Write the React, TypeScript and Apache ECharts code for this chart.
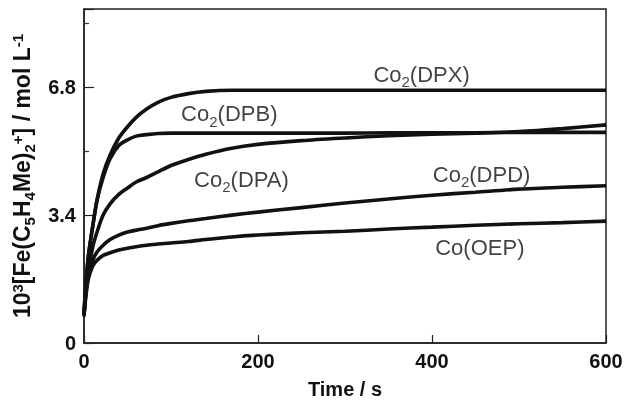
import React, { useEffect, useRef } from "react";
import * as echarts from "echarts";

const times = [0, 2, 5, 10, 15, 22, 30, 40, 50, 60, 72, 85, 100, 120, 140, 170, 200, 250, 300, 350, 400, 450, 500, 550, 600];
const dpx = [0.75, 1.5, 2.3, 3.1, 3.8, 4.5, 5.0, 5.45, 5.75, 6.0, 6.22, 6.4, 6.53, 6.63, 6.69, 6.72, 6.72, 6.72, 6.72, 6.72, 6.72, 6.72, 6.72, 6.72, 6.72];
const dpb = [0.8, 1.5, 2.3, 3.1, 3.8, 4.4, 4.9, 5.25, 5.4, 5.5, 5.54, 5.57, 5.58, 5.58, 5.58, 5.58, 5.58, 5.58, 5.58, 5.59, 5.59, 5.59, 5.6, 5.6, 5.6];
const dpa = [0.75, 1.3, 1.9, 2.55, 2.95, 3.4, 3.7, 3.95, 4.12, 4.28, 4.4, 4.55, 4.72, 4.88, 5.02, 5.18, 5.28, 5.38, 5.45, 5.51, 5.55, 5.58, 5.62, 5.7, 5.8];
const dpd = [0.75, 1.3, 1.8, 2.2, 2.42, 2.6, 2.75, 2.87, 2.95, 3.0, 3.05, 3.12, 3.18, 3.25, 3.31, 3.4, 3.48, 3.6, 3.72, 3.83, 3.93, 4.01, 4.09, 4.14, 4.18];
const oep = [0.7, 1.2, 1.7, 2.05, 2.2, 2.33, 2.4, 2.47, 2.52, 2.56, 2.6, 2.63, 2.66, 2.7, 2.75, 2.82, 2.87, 2.93, 2.97, 3.03, 3.08, 3.13, 3.17, 3.2, 3.24];

const labelTexts = ["{n|Co}{s|2}{n|(DPX)}", "{n|Co}{s|2}{n|(DPB)}", "{n|Co}{s|2}{n|(DPA)}", "{n|Co}{s|2}{n|(DPD)}", "{n|Co(OEP)}"];
const labelT = [388, 167, 181, 457, 455];
const labelV = [7.14, 6.1, 4.36, 4.49, 2.55];

const xTicks = [0, 200, 400, 600];
const yTicks = [0, 3.4, 6.8];

const pair = (ys: number[]) => times.map((t, i) => [t, ys[i]]);

export default function App() {
  const ref = useRef<HTMLDivElement>(null);
  useEffect(() => {
    if (!ref.current) return;
    const chart = echarts.init(ref.current, null, { renderer: "svg" });
    const lineStyle = { color: "#111", width: 3.6 };
    const mk = (name: string, ys: number[]) => ({
      name,
      type: "line",
      data: pair(ys),
      smooth: 0.3,
      showSymbol: false,
      lineStyle,
      silent: true,
    });
    const font = "Liberation Sans, Arial, sans-serif";
    const richLabel = {
      n: { fontSize: 22, lineHeight: 26, verticalAlign: "top", color: "#111", fontFamily: font },
      s: { fontSize: 15, lineHeight: 15, verticalAlign: "bottom", color: "#111", fontFamily: font },
    };
    chart.setOption({
      animation: false,
      grid: { left: 84, right: 28, top: 9, bottom: 63, show: true, borderColor: "#222", borderWidth: 1.5, backgroundColor: "transparent" },
      xAxis: {
        type: "value",
        min: 0,
        max: 600,
        interval: 200,
        name: "Time / s",
        nameLocation: "middle",
        nameGap: 36,
        nameTextStyle: { fontSize: 20, fontWeight: "bold", color: "#111", fontFamily: font },
        axisLine: { show: true, lineStyle: { color: "#222", width: 1.5 } },
        axisTick: { show: true, inside: true, length: 8, lineStyle: { color: "#222", width: 1.2 } },
        axisLabel: {
          fontSize: 20,
          fontWeight: "bold",
          color: "#111",
          fontFamily: font,
          margin: 8,
          formatter: (v: number) => (xTicks.includes(v) ? String(v) : ""),
        },
        splitLine: { show: false },
      },
      yAxis: {
        type: "value",
        min: 0,
        max: 8.88,
        interval: 3.4,
        name: "{n|10}{sup|3}{n|[Fe(C}{sub|5}{n|H}{sub|4}{n|Me)}{sub|2}{sup|+}{n|] / mol L}{sup|-1}",
        nameLocation: "middle",
        nameGap: 44,
        nameTextStyle: {
          color: "#111",
          rich: {
            n: { fontSize: 23, lineHeight: 27, verticalAlign: "top", fontWeight: "bold", color: "#111", fontFamily: font },
            sub: { fontSize: 15, lineHeight: 15, verticalAlign: "bottom", fontWeight: "bold", color: "#111", fontFamily: font },
            sup: { fontSize: 15, lineHeight: 15, verticalAlign: "top", fontWeight: "bold", color: "#111", fontFamily: font },
          },
        },
        axisLine: { show: true, lineStyle: { color: "#222", width: 1.5 } },
        axisTick: { show: true, inside: true, length: 10, lineStyle: { color: "#222", width: 1.2 } },
        minorTick: { show: true, splitNumber: 2, length: 5, lineStyle: { color: "#333", width: 1.2 } },
        axisLabel: {
          fontSize: 20,
          fontWeight: "bold",
          color: "#111",
          fontFamily: font,
          margin: 8,
          showMaxLabel: false,
          formatter: (v: number) => {
            const hit = yTicks.find((t) => Math.abs(t - v) < 1e-6);
            return hit === undefined ? "" : hit === 0 ? "0" : hit.toFixed(1);
          },
        },
        splitLine: { show: false },
      },
      series: [
        mk("Co2(DPX)", dpx),
        mk("Co2(DPB)", dpb),
        mk("Co2(DPA)", dpa),
        mk("Co2(DPD)", dpd),
        mk("Co(OEP)", oep),
        {
          name: "labels",
          type: "scatter",
          symbolSize: 0,
          silent: true,
          data: labelT.map((t, i) => ({ value: [t, labelV[i]], label: { formatter: labelTexts[i] } })),
          label: { show: true, position: "inside", offset: [0, 2], rich: richLabel },
        },
      ],
    });
    return () => chart.dispose();
  }, []);
  return <div ref={ref} style={{ position: "fixed", left: 0, top: 0, width: 634, height: 406 }} />;
}
